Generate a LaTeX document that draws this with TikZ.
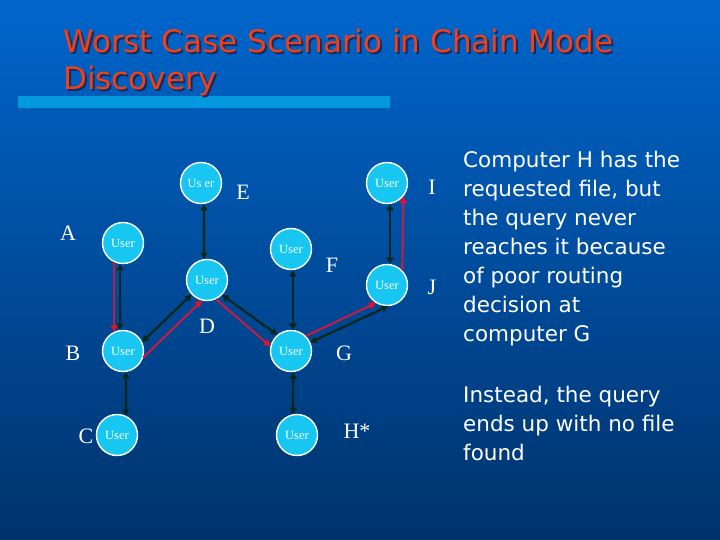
\documentclass[tikz,border=0pt]{standalone}
\usepackage{fontspec}
\setmainfont{Liberation Serif}
\newfontfamily\comicfont{DejaVu Sans}
\usetikzlibrary{arrows.meta}

\definecolor{bgtop}{HTML}{0066CC}
\definecolor{bgbot}{HTML}{00326C}
\definecolor{titlered}{HTML}{F0401A}
\definecolor{titleshadow}{HTML}{1A2A5A}
\definecolor{barblue}{HTML}{0099E0}
\definecolor{usercyan}{HTML}{18C6F2}
\definecolor{linkdark}{HTML}{03281C}
\definecolor{queryred}{HTML}{B8204A}
\definecolor{tipred}{HTML}{E8102A}

\tikzset{
  user/.style={circle, draw=white, line width=1.4pt, fill=usercyan,
    minimum size=41pt, inner sep=0pt, text=white,
    font=\fontsize{12.5}{13}\selectfont},
  letter/.style={text=white, inner sep=0pt, font=\fontsize{22}{24}\selectfont},
  titletext/.style={anchor=base west, inner sep=0pt,
    font=\comicfont\fontsize{31}{36}\selectfont},
  bodytext/.style={anchor=north west, inner sep=0pt, align=left, text=white,
    font=\comicfont\fontsize{21.5}{29}\selectfont},
  link/.style={draw=linkdark, line width=2.2pt,
    {Triangle[length=6.5pt,width=7pt]}-{Triangle[length=6.5pt,width=7pt]}},
  query/.style={draw=queryred, line width=2.2pt,
    -{Triangle[length=6.5pt,width=7pt,fill=tipred,color=tipred]}},
}

\begin{document}
\begin{tikzpicture}[x=1pt,y=-1pt]

    %% -- background and title --------------------------------------------
    \shade[top color=bgtop, bottom color=bgbot] (0,0) rectangle (720,540);
    \fill[barblue] (18,96) rectangle (390,108);
    \node[titletext, text=titleshadow] (title1s) at (65,55)
        {Worst Case Scenario in Chain Mode};
    \node[titletext, text=titleshadow] (title2s) at (65,92) {Discovery};
    \node[titletext, text=titlered] (title1) at (63,53)
        {Worst Case Scenario in Chain Mode};
    \node[titletext, text=titlered] (title2) at (63,90) {Discovery};

    %% -- computers ---------------------------------------------------------
    \node[user] (uE) at (201,183) {Us er};
    \node[user] (uA) at (123,243) {User};
    \node[user] (uD) at (207,280) {User};
    \node[user] (uB) at (123,351) {User};
    \node[user] (uC) at (117,435) {User};
    \node[user] (uF) at (291,249) {User};
    \node[user] (uG) at (291,351) {User};
    \node[user] (uH) at (297,435) {User};
    \node[user] (uI) at (387,183) {User};
    \node[user] (uJ) at (387,285) {User};

    %% -- letters -------------------------------------------------------------
    \node[letter] (lA) at (68,233) {A};
    \node[letter] (lE) at (243,192) {E};
    \node[letter] (lI) at (432,187) {I};
    \node[letter] (lF) at (332,265) {F};
    \node[letter] (lJ) at (432,287) {J};
    \node[letter] (lD) at (207,326) {D};
    \node[letter] (lB) at (73,353) {B};
    \node[letter] (lG) at (344,353) {G};
    \node[letter] (lC) at (86,436) {C};
    \node[letter] (lH) at (357,431) {H*};

    %% -- links and query path ------------------------------------------------
    \draw[link] (uE.278) -- (uD.98);
    \draw[link] (uA.262) -- (uB.98);
    \draw[query] (uA.245) -- (uB.115);
    \draw[link] (uB.278) -- (uC.65);
    \draw[link] (uB.25) -- (uD.223);
    \draw[query] (uB.342) -- (uD.256);
    \draw[link] (uD.315) -- (uG.130);
    \draw[query] (uD.295) -- (uG.167);
    \draw[link] (uF.275) -- (uG.85);
    \draw[link] (uG.276) -- (uH.101);
    \draw[query] (uG.45) -- (uJ.238);
    \draw[link] (uJ.273) -- (uG.24);
    \draw[link] (uI.278) -- (uJ.82);
    \draw[query] (uJ.44) -- (uI.321);

    %% -- notes -----------------------------------------------------------------
    \node[bodytext] (note1) at (463,151)
        {Computer H has the\\requested file, but\\the query never\\
         reaches it because\\of poor routing\\decision at\\computer G};
    \node[bodytext] (note2) at (463,386)
        {Instead, the query\\ends up with no file\\found};

\end{tikzpicture}
\end{document}
